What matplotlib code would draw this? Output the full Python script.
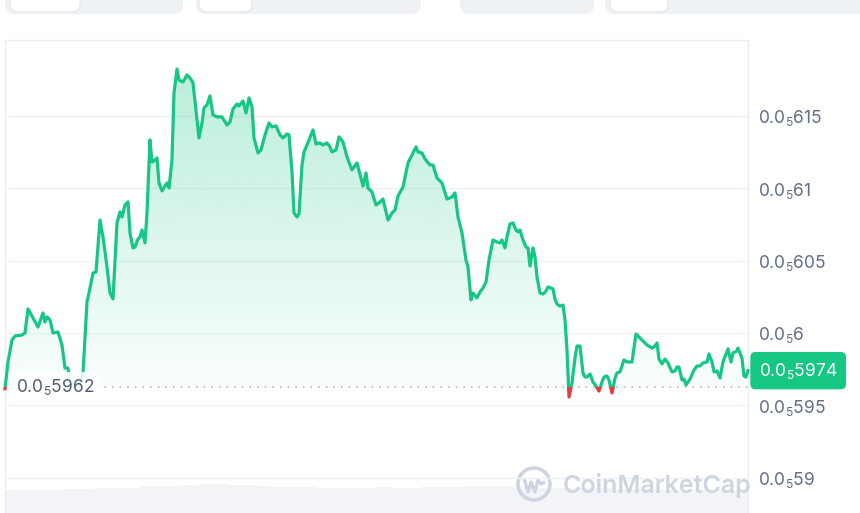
import numpy as np
import matplotlib
matplotlib.use("Agg")
import matplotlib.pyplot as plt
import matplotlib.transforms as mtransforms
from matplotlib.patches import FancyBboxPatch, Rectangle, PathPatch, Circle
from matplotlib.path import Path

plt.rcParams["font.family"] = ["Inter", "DejaVu Sans"]
plt.rcParams["mathtext.fontset"] = "custom"
plt.rcParams["mathtext.rm"] = "Inter"
plt.rcParams["mathtext.it"] = "Inter"
plt.rcParams["mathtext.default"] = "regular"

# ---- data (price in units of 1e-10, time in steps) ----
t = [0, 3, 7, 10, 17, 20, 23, 28, 33, 38, 40, 42,
     45, 48, 53, 57, 60, 63, 65, 67, 71, 74, 78, 82,
     84, 88, 91, 95, 98, 102, 105, 108, 112, 115, 117, 120,
     123, 125, 128, 130, 133, 135, 137, 140, 142, 145, 147, 149,
     152, 154, 157, 162, 164, 167, 169, 172, 174, 178, 182, 185,
     188, 191, 194, 197, 199, 202, 205, 208, 212, 217, 222, 225,
     228, 232, 234, 238, 241, 244, 247, 249, 253, 256, 260, 264,
     267, 271, 275, 278, 282, 284, 287, 289, 292, 294, 297, 299,
     302, 308, 311, 315, 318, 322, 325, 327, 331, 334, 338, 342,
     347, 352, 358, 361, 363, 367, 371, 374, 378, 383, 387, 390,
     393, 398, 403, 411, 413, 417, 420, 425, 428, 432, 437, 442,
     447, 450, 453, 457, 461, 463, 466, 468, 472, 475, 478, 481,
     484, 488, 492, 495, 497, 500, 502, 505, 508, 511, 513, 515,
     518, 521, 523, 525, 528, 530, 532, 535, 538, 541, 543, 548,
     550, 552, 555, 558, 560, 562, 564, 567, 570, 572, 575, 578,
     580, 582, 585, 588, 591, 594, 597, 599, 602, 604, 607, 610,
     612, 615, 619, 622, 627, 631, 635, 638, 642, 647, 649, 652,
     654, 657, 660, 663, 667, 670, 672, 674, 677, 679, 681, 685,
     689, 692, 695, 698, 702, 704, 707, 709, 712, 715, 718, 723,
     726, 728, 732, 733, 737, 739, 741, 743]

price_e10 = [59615, 59800, 59952, 59979, 59986, 60000, 60166, 60104, 60041, 60138, 60076, 60110,
             60090, 60000, 60007, 59917, 59758, 59758, 59675, 59648, 59675, 59634, 59724, 60214,
             60276, 60414, 60421, 60780, 60663, 60456, 60276, 60235, 60760, 60836, 60801, 60884,
             60905, 60691, 60587, 60594, 60649, 60663, 60711, 60622, 60829, 61333, 61181, 61188,
             61209, 61036, 60981, 61036, 61001, 61195, 61657, 61823, 61747, 61733, 61782, 61761,
             61727, 61540, 61347, 61450, 61554, 61575, 61637, 61506, 61492, 61492, 61436, 61457,
             61547, 61581, 61568, 61602, 61519, 61623, 61561, 61347, 61243, 61264, 61367, 61450,
             61423, 61430, 61367, 61347, 61374, 61367, 61112, 60829, 60801, 60822, 61160, 61250,
             61298, 61402, 61305, 61312, 61298, 61312, 61285, 61250, 61264, 61354, 61319, 61215,
             61126, 61174, 61015, 61105, 61001, 60974, 60884, 60898, 60925, 60780, 60829, 60849,
             60946, 61008, 61174, 61285, 61250, 61243, 61202, 61160, 61160, 61070, 61036, 60925,
             60939, 60967, 60801, 60691, 60504, 60456, 60228, 60276, 60242, 60283, 60311, 60352,
             60504, 60642, 60628, 60622, 60642, 60587, 60663, 60753, 60760, 60711, 60698, 60711,
             60642, 60594, 60587, 60463, 60587, 60525, 60387, 60276, 60269, 60290, 60318, 60304,
             60235, 60200, 60186, 60193, 60090, 59883, 59558, 59655, 59827, 59910, 59910, 59724,
             59696, 59696, 59717, 59662, 59634, 59599, 59662, 59696, 59703, 59675, 59586, 59689,
             59724, 59731, 59814, 59800, 59800, 59993, 59965, 59945, 59917, 59896, 59903, 59931,
             59820, 59786, 59820, 59793, 59731, 59738, 59765, 59765, 59675, 59682, 59641, 59682,
             59744, 59772, 59772, 59793, 59800, 59855, 59800, 59731, 59738, 59689, 59800, 59890,
             59800, 59862, 59876, 59896, 59827, 59703, 59696, 59740]

ref_e10 = 59624
last_label = "5974"
ref_label = "5962"

volume = [23, 23, 23, 23, 24, 24, 25, 25, 25, 27, 27, 27, 28, 29, 29, 28, 28, 27, 26, 26,
          26, 25, 25, 25, 25, 26, 25, 25, 26, 26, 26, 27, 27, 27, 26, 25, 25, 25, 25, 25,
          25, 24, 24, 24, 23, 23, 23, 23, 23, 23]

yticks = [5.90, 5.95, 6.00, 6.05, 6.10, 6.15]

GREEN = "#16c784"
RED = "#ea3943"
LABEL = "#616e85"
GRID = "#eff2f5"
WM = "#cfd5e0"
FS = 12.5

t = np.array(t, dtype=float)
p = np.array(price_e10) / 1e4
ref = ref_e10 / 1e4

W, H = 860, 513
fig = plt.figure(figsize=(8.6, 5.13), dpi=100)
fig.patch.set_facecolor("white")

# volume strip at the bottom
vax = fig.add_axes([5 / W, 0, 743 / W, 43 / H], zorder=0)
vax.bar(np.arange(len(volume)), volume, width=1.0, color="#f3f4f7", linewidth=0)
vax.set_xlim(-0.5, len(volume) - 0.5)
vax.set_ylim(0, 43)
vax.axis("off")

ax = fig.add_axes([5 / W, 0, 743 / W, 473 / H], zorder=1)
ax.patch.set_alpha(0)

# gradient fill above the reference
poly = ax.fill_between(t, p, ref, where=p >= ref, interpolate=True,
                       facecolor="none", edgecolor="none")
clip = PathPatch(Path.make_compound_path(*poly.get_paths()), transform=ax.transData,
                 facecolor="none", edgecolor="none")
ax.add_patch(clip)
grad = np.zeros((256, 1, 4))
grad[..., :3] = matplotlib.colors.to_rgb(GREEN)
grad[:, 0, 3] = np.linspace(0.02, 0.30, 256)
im = ax.imshow(grad, extent=[t[0], t[-1], ref, p.max()], origin="lower",
               aspect="auto", zorder=1, interpolation="bilinear")
im.set_clip_path(clip)

ax.fill_between(t, p, ref, where=p < ref, interpolate=True, color=RED, alpha=0.4, lw=0, zorder=1)

# price line, green above / red below the reference
above = Rectangle((t[0] - 50, ref), 900, 10, transform=ax.transData)
below = Rectangle((t[0] - 50, ref - 10), 900, 10, transform=ax.transData)
l1, = ax.plot(t, p, color=GREEN, lw=2.3, solid_joinstyle="round", zorder=3)
l1.set_clip_path(above)
l2, = ax.plot(t, p, color=RED, lw=2.3, solid_joinstyle="round", zorder=3)
l2.set_clip_path(below)

ax.axhline(ref, color="#a7b1c2", lw=1.1, ls=(0, (1, 4)), zorder=2)

ax.set_xlim(t[0], t[-1])
ax.set_ylim(5.8757, 6.2023)
ax.set_xticks([])
ax.set_yticks(yticks)


def fmt(v):
    digits = f"{v:.2f}".replace(".", "").rstrip("0")
    return r"0.0$_{5}$" + digits


ax.set_yticklabels([fmt(v) for v in yticks])
ax.yaxis.tick_right()
ax.tick_params(axis="y", length=0, pad=7.5, labelcolor=LABEL, labelsize=FS)
ax.grid(axis="y", color=GRID, lw=1, zorder=0)
ax.set_axisbelow(True)
for side in ["left", "right", "top"]:
    ax.spines[side].set_color("#eceef1")
    ax.spines[side].set_linewidth(1)
ax.spines["bottom"].set_visible(False)

blend = mtransforms.blended_transform_factory(ax.transAxes, ax.transData)
ax.text(11 / 743, ref, r"0.0$_{5}$" + ref_label, transform=blend, va="center", ha="left",
        color="#4f5b70", fontsize=FS, zorder=5,
        bbox=dict(boxstyle="square,pad=0.3", fc="white", ec="none", alpha=0.88))
ax.text(1 + 11 / 743, p[-1], r"0.0$_{5}$" + last_label, transform=blend, va="center",
        ha="left", color="white", fontsize=FS, clip_on=False, zorder=6,
        bbox=dict(boxstyle="round,pad=0.5,rounding_size=0.3", fc=GREEN, ec="none"))

# watermark
px = mtransforms.IdentityTransform()
fig.text(563 / W, 1 - 485 / H, "CoinMarketCap", fontsize=18, color=WM,
         fontweight="semibold", va="center", ha="left")
fig.add_artist(Circle((534, H - 484), 16, transform=px, fill=False, ec=WM, lw=2.6))
logo = Path([(524, H - 478), (528, H - 492), (531, H - 482), (535, H - 492),
             (538, H - 480), (541, H - 484), (545, H - 482)])
fig.add_artist(PathPatch(logo, transform=px, fill=False, ec=WM, lw=2.4, joinstyle="round"))

# tab bar fragments at the top
for x0, x1 in [(5, 183), (196, 421), (460, 594), (605, 875)]:
    fig.add_artist(FancyBboxPatch((x0, H - 14), x1 - x0, 40, transform=px,
                                  boxstyle="round,pad=0,rounding_size=10",
                                  fc="#eff2f5", ec="none"))
for x0, x1 in [(10, 80), (199, 252), (610, 668)]:
    fig.add_artist(FancyBboxPatch((x0, H - 12), x1 - x0, 40, transform=px,
                                  boxstyle="round,pad=0,rounding_size=8",
                                  fc="white", ec="#e4e7ec", lw=0.8))

fig.savefig("out.png", dpi=100)
